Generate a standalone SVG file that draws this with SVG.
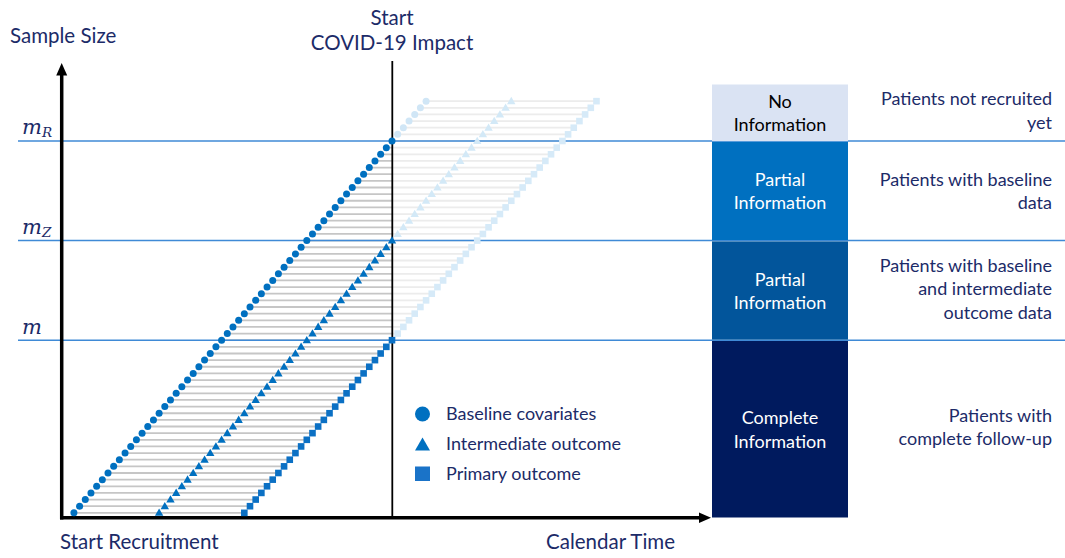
<svg xmlns="http://www.w3.org/2000/svg" width="1065" height="558" viewBox="0 0 1065 558">
<style>
text{font-family:Lato,"Open Sans","Liberation Sans",sans-serif;fill:#1c2b68}
.lbl{font-size:20.5px}
.leg{font-size:18px}
.box{font-size:18px;text-anchor:middle}
.rt{font-size:18px;text-anchor:end}
.w{fill:#ffffff}
.k{fill:#000000}
.math{font-family:"DejaVu Serif","Liberation Serif",serif;font-style:italic;fill:#1c2b68}
.hl{stroke:#3f8ad6;stroke-width:1.5;fill:none}
.dc{fill:none;stroke:none;marker-start:url(#mdc);marker-mid:url(#mdc);marker-end:url(#mdc)}
.lc{fill:none;stroke:none;marker-start:url(#mlc);marker-mid:url(#mlc);marker-end:url(#mlc)}
.dt{fill:none;stroke:none;marker-start:url(#mdt);marker-mid:url(#mdt);marker-end:url(#mdt)}
.lt{fill:none;stroke:none;marker-start:url(#mlt);marker-mid:url(#mlt);marker-end:url(#mlt)}
.ds{fill:none;stroke:none;marker-start:url(#mds);marker-mid:url(#mds);marker-end:url(#mds)}
.ls{fill:none;stroke:none;marker-start:url(#mls);marker-mid:url(#mls);marker-end:url(#mls)}
</style>
<defs>
<marker id="mdc" viewBox="-5 -5 10 10" refX="0" refY="0" markerWidth="10" markerHeight="10" markerUnits="userSpaceOnUse" orient="0"><circle r="3.5" fill="#0070c0"/></marker>
<marker id="mlc" viewBox="-5 -5 10 10" refX="0" refY="0" markerWidth="10" markerHeight="10" markerUnits="userSpaceOnUse" orient="0"><circle r="3.5" fill="#d0e6f6"/></marker>
<marker id="mdt" viewBox="-5 -5 10 10" refX="0" refY="0" markerWidth="10" markerHeight="10" markerUnits="userSpaceOnUse" orient="0"><polygon points="0,-4.3 4.2,3 -4.2,3" fill="#0070c0"/></marker>
<marker id="mlt" viewBox="-5 -5 10 10" refX="0" refY="0" markerWidth="10" markerHeight="10" markerUnits="userSpaceOnUse" orient="0"><polygon points="0,-4.3 4.2,3 -4.2,3" fill="#d3e9f7"/></marker>
<marker id="mds" viewBox="-5 -5 10 10" refX="0" refY="0" markerWidth="10" markerHeight="10" markerUnits="userSpaceOnUse" orient="0"><rect x="-3.3" y="-3.3" width="6.6" height="6.6" fill="#0b70c4"/></marker>
<marker id="mls" viewBox="-5 -5 10 10" refX="0" refY="0" markerWidth="10" markerHeight="10" markerUnits="userSpaceOnUse" orient="0"><rect x="-3.3" y="-3.3" width="6.6" height="6.6" fill="#d6eaf8"/></marker>
</defs>
<rect width="1065" height="558" fill="#ffffff"/>

<g id="connectors">
<path stroke="#ececec" stroke-width="1.8" fill="none" d="M426.08 101.16H596.48 M420.4 107.8H590.8 M414.72 114.44H585.12 M409.04 121.08H579.44 M403.36 127.72H573.76 M397.68 134.36H568.08 M392 141H562.4 M392 147.64H556.72 M392 154.28H551.04 M392 160.92H545.36 M392 167.56H539.68 M392 174.2H534 M392 180.84H528.32 M392 187.48H522.64 M392 194.12H516.96 M392 200.76H511.28 M392 207.4H505.6 M392 214.04H499.92 M392 220.68H494.24 M392 227.32H488.56 M392 233.96H482.88 M392 240.6H477.2 M392 247.24H471.52 M392 253.88H465.84 M392 260.52H460.16 M392 267.16H454.48 M392 273.8H448.8 M392 280.44H443.12 M392 287.08H437.44 M392 293.72H431.76 M392 300.36H426.08 M392 307H420.4 M392 313.64H414.72 M392 320.28H409.04 M392 326.92H403.36 M392 333.56H397.68"/>
<path stroke="#c6c6c6" stroke-width="1.8" fill="none" d="M386.32 147.64H392 M380.64 154.28H392 M374.96 160.92H392 M369.28 167.56H392 M363.6 174.2H392 M357.92 180.84H392 M352.24 187.48H392 M346.56 194.12H392 M340.88 200.76H392 M335.2 207.4H392 M329.52 214.04H392 M323.84 220.68H392 M318.16 227.32H392 M312.48 233.96H392 M306.8 240.6H392 M301.12 247.24H392 M295.44 253.88H392 M289.76 260.52H392 M284.08 267.16H392 M278.4 273.8H392 M272.72 280.44H392 M267.04 287.08H392 M261.36 293.72H392 M255.68 300.36H392 M250 307H392 M244.32 313.64H392 M238.64 320.28H392 M232.96 326.92H392 M227.28 333.56H392 M221.6 340.2H392 M215.92 346.84H386.32 M210.24 353.48H380.64 M204.56 360.12H374.96 M198.88 366.76H369.28 M193.2 373.4H363.6 M187.52 380.04H357.92 M181.84 386.68H352.24 M176.16 393.32H346.56 M170.48 399.96H340.88 M164.8 406.6H335.2 M159.12 413.24H329.52 M153.44 419.88H323.84 M147.76 426.52H318.16 M142.08 433.16H312.48 M136.4 439.8H306.8 M130.72 446.44H301.12 M125.04 453.08H295.44 M119.36 459.72H289.76 M113.68 466.36H284.08 M108 473H278.4 M102.32 479.64H272.72 M96.64 486.28H267.04 M90.96 492.92H261.36 M85.28 499.56H255.68 M79.6 506.2H250 M73.92 512.84H244.32"/>
</g>

<g id="thresholds">
<line class="hl" x1="18" y1="141" x2="1065" y2="141"/>
<line class="hl" x1="18" y1="240.6" x2="1065" y2="240.6"/>
<line class="hl" x1="18" y1="340.2" x2="1065" y2="340.2"/>
<text class="math" x="22" y="134" font-size="21">m<tspan font-size="13.5" dy="3">R</tspan></text>
<text class="math" x="22" y="234" font-size="21">m<tspan font-size="13.5" dy="3">Z</tspan></text>
<text class="math" x="22" y="334" font-size="21">m</text>
</g>

<g id="axes">
<line x1="61.7" y1="73" x2="61.7" y2="519.5" stroke="#000" stroke-width="3.5"/>
<polygon points="61.7,63 67.2,75.5 56.2,75.5" fill="#000"/>
<line x1="60" y1="517.7" x2="701" y2="517.7" stroke="#000" stroke-width="3.5"/>
<polygon points="711,517.7 699,512.5 699,522.9" fill="#000"/>
<line x1="392.3" y1="61" x2="392.3" y2="517" stroke="#000" stroke-width="1.8"/>
<text class="lbl" x="10" y="43">Sample Size</text>
<text class="lbl" x="392" y="24.5" text-anchor="middle">Start</text>
<text class="lbl" x="392" y="50" text-anchor="middle">COVID-19 Impact</text>
<text class="lbl" x="60" y="548.5">Start Recruitment</text>
<text class="lbl" x="675" y="548.5" text-anchor="end">Calendar Time</text>
</g>

<g id="markers">
<polyline class="lc" points="426.08,101.16 420.4,107.8 414.72,114.44 409.04,121.08 403.36,127.72 397.68,134.36"/>
<polyline class="lt" points="511.28,101.16 505.6,107.8 499.92,114.44 494.24,121.08 488.56,127.72 482.88,134.36 477.2,141 471.52,147.64 465.84,154.28 460.16,160.92 454.48,167.56 448.8,174.2 443.12,180.84 437.44,187.48 431.76,194.12 426.08,200.76 420.4,207.4 414.72,214.04 409.04,220.68 403.36,227.32 397.68,233.96"/>
<polyline class="ls" points="596.48,101.16 590.8,107.8 585.12,114.44 579.44,121.08 573.76,127.72 568.08,134.36 562.4,141 556.72,147.64 551.04,154.28 545.36,160.92 539.68,167.56 534,174.2 528.32,180.84 522.64,187.48 516.96,194.12 511.28,200.76 505.6,207.4 499.92,214.04 494.24,220.68 488.56,227.32 482.88,233.96 477.2,240.6 471.52,247.24 465.84,253.88 460.16,260.52 454.48,267.16 448.8,273.8 443.12,280.44 437.44,287.08 431.76,293.72 426.08,300.36 420.4,307 414.72,313.64 409.04,320.28 403.36,326.92 397.68,333.56"/>
<polyline class="dc" points="392,141 386.32,147.64 380.64,154.28 374.96,160.92 369.28,167.56 363.6,174.2 357.92,180.84 352.24,187.48 346.56,194.12 340.88,200.76 335.2,207.4 329.52,214.04 323.84,220.68 318.16,227.32 312.48,233.96 306.8,240.6 301.12,247.24 295.44,253.88 289.76,260.52 284.08,267.16 278.4,273.8 272.72,280.44 267.04,287.08 261.36,293.72 255.68,300.36 250,307 244.32,313.64 238.64,320.28 232.96,326.92 227.28,333.56 221.6,340.2 215.92,346.84 210.24,353.48 204.56,360.12 198.88,366.76 193.2,373.4 187.52,380.04 181.84,386.68 176.16,393.32 170.48,399.96 164.8,406.6 159.12,413.24 153.44,419.88 147.76,426.52 142.08,433.16 136.4,439.8 130.72,446.44 125.04,453.08 119.36,459.72 113.68,466.36 108,473 102.32,479.64 96.64,486.28 90.96,492.92 85.28,499.56 79.6,506.2 73.92,512.84"/>
<polyline class="dt" points="392,240.6 386.32,247.24 380.64,253.88 374.96,260.52 369.28,267.16 363.6,273.8 357.92,280.44 352.24,287.08 346.56,293.72 340.88,300.36 335.2,307 329.52,313.64 323.84,320.28 318.16,326.92 312.48,333.56 306.8,340.2 301.12,346.84 295.44,353.48 289.76,360.12 284.08,366.76 278.4,373.4 272.72,380.04 267.04,386.68 261.36,393.32 255.68,399.96 250,406.6 244.32,413.24 238.64,419.88 232.96,426.52 227.28,433.16 221.6,439.8 215.92,446.44 210.24,453.08 204.56,459.72 198.88,466.36 193.2,473 187.52,479.64 181.84,486.28 176.16,492.92 170.48,499.56 164.8,506.2 159.12,512.84"/>
<polyline class="ds" points="392,340.2 386.32,346.84 380.64,353.48 374.96,360.12 369.28,366.76 363.6,373.4 357.92,380.04 352.24,386.68 346.56,393.32 340.88,399.96 335.2,406.6 329.52,413.24 323.84,419.88 318.16,426.52 312.48,433.16 306.8,439.8 301.12,446.44 295.44,453.08 289.76,459.72 284.08,466.36 278.4,473 272.72,479.64 267.04,486.28 261.36,492.92 255.68,499.56 250,506.2 244.32,512.84"/>
</g>

<g id="legend">
<circle cx="422.5" cy="414" r="7.5" fill="#0070c0"/>
<polygon points="422.5,437.5 430,450.5 415,450.5" fill="#0070c0"/>
<rect x="415" y="466.5" width="15" height="14.5" fill="#1a73c8"/>
<text class="leg" x="446" y="419.5">Baseline covariates</text>
<text class="leg" x="446" y="450">Intermediate outcome</text>
<text class="leg" x="446" y="479.5">Primary outcome</text>
</g>

<g id="box-no-info">
<rect x="712" y="84.5" width="136" height="56.5" fill="#dae3f3"/>
<text class="box k" x="780" y="107.5">No</text>
<text class="box k" x="780" y="130.5">Information</text>
<text class="rt" x="1052" y="105">Patients not recruited</text>
<text class="rt" x="1052" y="128.5">yet</text>
</g>
<g id="box-partial-baseline">
<rect x="712" y="141.8" width="136" height="98.2" fill="#0070c0"/>
<text class="box w" x="780" y="186">Partial</text>
<text class="box w" x="780" y="209">Information</text>
<text class="rt" x="1052" y="185.5">Patients with baseline</text>
<text class="rt" x="1052" y="208.5">data</text>
</g>
<g id="box-partial-intermediate">
<rect x="712" y="241.4" width="136" height="98.2" fill="#02559b"/>
<text class="box w" x="780" y="286">Partial</text>
<text class="box w" x="780" y="309">Information</text>
<text class="rt" x="1052" y="272">Patients with baseline</text>
<text class="rt" x="1052" y="295">and intermediate</text>
<text class="rt" x="1052" y="318.5">outcome data</text>
</g>
<g id="box-complete">
<rect x="712" y="341" width="136" height="176.5" fill="#001a5e"/>
<text class="box w" x="780" y="424">Complete</text>
<text class="box w" x="780" y="447.5">Information</text>
<text class="rt" x="1052" y="421.5">Patients with</text>
<text class="rt" x="1052" y="445">complete follow-up</text>
</g>
</svg>
